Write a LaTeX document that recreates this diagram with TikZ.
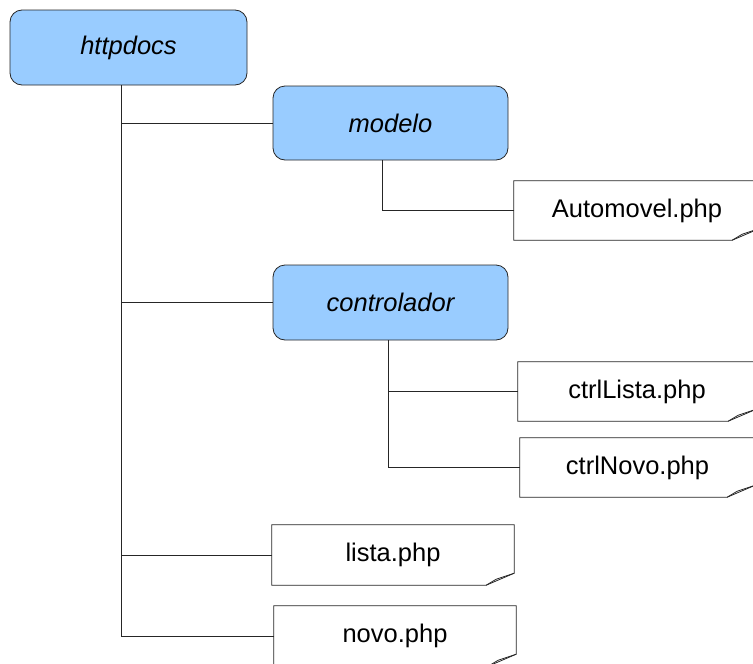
\documentclass[tikz,border=0pt]{standalone}
\usepackage{fontspec}
\setmainfont{Liberation Sans}
\usetikzlibrary{calc}
\definecolor{folderblue}{RGB}{153,204,255}

\tikzset{
    folder/.style={draw=black!85, fill=folderblue, line width=0.8pt, rounded corners=12pt,
        inner sep=0pt, font=\itshape\fontsize{25.5}{30}\selectfont},
    file/.style={inner sep=0pt, font=\fontsize{25.5}{30}\selectfont},
    branch/.style={draw=black!85, line width=0.8pt}
}

% outline of a file sheet with the curled corner
\newcommand{\pagefold}[1]{%
    \draw[branch] (#1.north west) -- (#1.north east) -- ($(#1.south east)+(0,-12)$)
        -- ($(#1.south east)+(-28,0)$) -- (#1.south west) -- cycle;
    \draw[branch] ($(#1.south east)+(0,-12)$) -- ($(#1.south east)+(-18,-6)$) -- ($(#1.south east)+(-28,0)$);
}

\begin{document}
\begin{tikzpicture}[x=1pt, y=-1pt]
        \clip (0,0) rectangle (753,664);
        \fill[white] (0,0) rectangle (753,664);

        % Folders
        \node[folder, minimum width=237pt, minimum height=75pt] (httpdocs) at (128.5,47.5) {httpdocs};
        \node[folder, minimum width=235pt, minimum height=74pt] (modelo) at (390.5,123) {modelo};
        \node[folder, minimum width=235pt, minimum height=75pt] (controlador) at (390.5,302.5) {controlador};

        % Files
        \node[file, minimum width=246pt, minimum height=59pt] (automovel) at (637,210.5) {Automovel.php};
        \node[file, minimum width=238pt, minimum height=59pt] (ctrllista) at (637,391.5) {ctrlLista.php};
        \node[file, minimum width=235pt, minimum height=59pt] (ctrlnovo) at (637.5,467.5) {ctrlNovo.php};
        \node[file, minimum width=242pt, minimum height=60pt] (lista) at (393,555) {lista.php};
        \node[file, minimum width=242pt, minimum height=60pt] (novo) at (395,636) {novo.php};

        \foreach \f in {automovel, ctrllista, ctrlnovo, lista, novo} {
            \pagefold{\f}
        }

        % Tree lines
        \coordinate (rootstem) at (121,85);
        \coordinate (modelostem) at (382,160);
        \coordinate (ctrlstem) at (388,340);

        \draw[branch] (rootstem) |- (modelo.west);
        \draw[branch] (rootstem) |- (controlador.west);
        \draw[branch] (rootstem) |- (lista.west);
        \draw[branch] (rootstem) |- (novo.west);

        \draw[branch] (modelostem) |- (automovel.west);

        \draw[branch] (ctrlstem) |- (ctrllista.west);
        \draw[branch] (ctrlstem) |- (ctrlnovo.west);

    \end{tikzpicture}
\end{document}
